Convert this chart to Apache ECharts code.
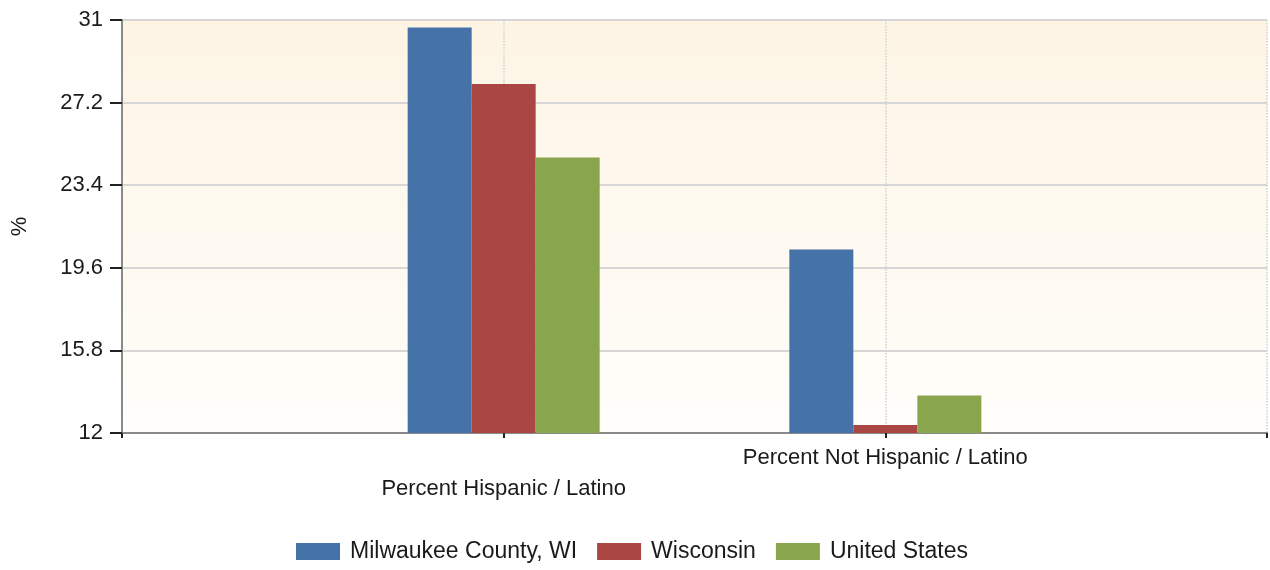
<!DOCTYPE html>
<html>
<head>
<meta charset="utf-8">
<script src="https://cdn.jsdelivr.net/npm/echarts@6/dist/echarts.min.js"></script>
<style>html,body{margin:0;padding:0;background:#fff;}#c{width:1270px;height:570px;}</style>
</head>
<body>
<div id="c"></div>
<script>
const categories = ['Percent Hispanic / Latino', 'Percent Not Hispanic / Latino'];
const seriesNames = ['Milwaukee County, WI', 'Wisconsin', 'United States'];
const milwaukee = [30.66, 20.44];
const wisconsin = [28.06, 12.37];
const unitedStates = [24.68, 13.72];
const yTicks = [12, 15.8, 19.6, 23.4, 27.2, 31];
const colors = ['#4572A7', '#AA4643', '#89A54E'];

const font = '"Liberation Sans", Arial, sans-serif';
const txt = '#1a1a1a';
const xCats = [''].concat(categories, ['']);
const pad = arr => [null].concat(arr, [null]);
const values = [milwaukee, wisconsin, unitedStates];

const chart = echarts.init(document.getElementById('c'));
chart.setOption({
  animation: false,
  color: colors,
  textStyle: { fontFamily: font },
  grid: {
    left: 122, right: 3, top: 20, bottom: 137, show: true,
    containLabel: false, outerBoundsMode: 'none',
    borderWidth: 0,
    backgroundColor: { type: 'linear', x: 0, y: 0, x2: 0, y2: 1,
      colorStops: [{ offset: 0, color: '#fdf4e4' }, { offset: 1, color: '#fffefb' }] }
  },
  legend: {
    data: seriesNames, left: 296, top: 540, padding: 0,
    icon: 'rect', itemWidth: 44, itemHeight: 17, itemGap: 20,
    textStyle: { fontFamily: font, fontSize: 23, color: txt, padding: [0, 0, 0, 5] }
  },
  xAxis: {
    type: 'category', data: xCats, boundaryGap: false,
    axisLine: { lineStyle: { color: '#8a8a8a', width: 2 } },
    axisTick: { show: true, length: 5, lineStyle: { color: '#222', width: 2 } },
    splitLine: { show: true, lineStyle: { color: '#cfcfcf', type: 'dotted', width: 1.5 } },
    axisLabel: {
      interval: 0, margin: 14, fontSize: 22, color: txt, fontFamily: font,
      formatter: (v, i) => i === 1 ? '{lo|' + v + '}' : v,
      rich: { lo: { fontSize: 22, color: txt, fontFamily: font, padding: [31, 0, 0, 0] } }
    }
  },
  yAxis: {
    type: 'value', min: yTicks[0], max: yTicks[yTicks.length - 1],
    interval: +(yTicks[1] - yTicks[0]).toFixed(1),
    name: '%', nameLocation: 'middle', nameRotate: 90, nameGap: 91,
    nameTextStyle: { fontSize: 22, color: txt, fontFamily: font },
    axisLine: { show: true, lineStyle: { color: '#8a8a8a', width: 2 } },
    axisTick: { show: true, length: 12, lineStyle: { color: '#222', width: 2 } },
    axisLabel: { margin: 19, fontSize: 22, color: txt, fontFamily: font,
      formatter: v => String(+v.toFixed(1)) },
    splitLine: { show: true, lineStyle: { color: '#d6d6d6', width: 2 } }
  },
  series: values.map((vals, k) => ({
    name: seriesNames[k], type: 'bar', data: pad(vals),
    barWidth: 64, barGap: 0,
    itemStyle: { color: colors[k] }
  }))
});
</script>
</body>
</html>
